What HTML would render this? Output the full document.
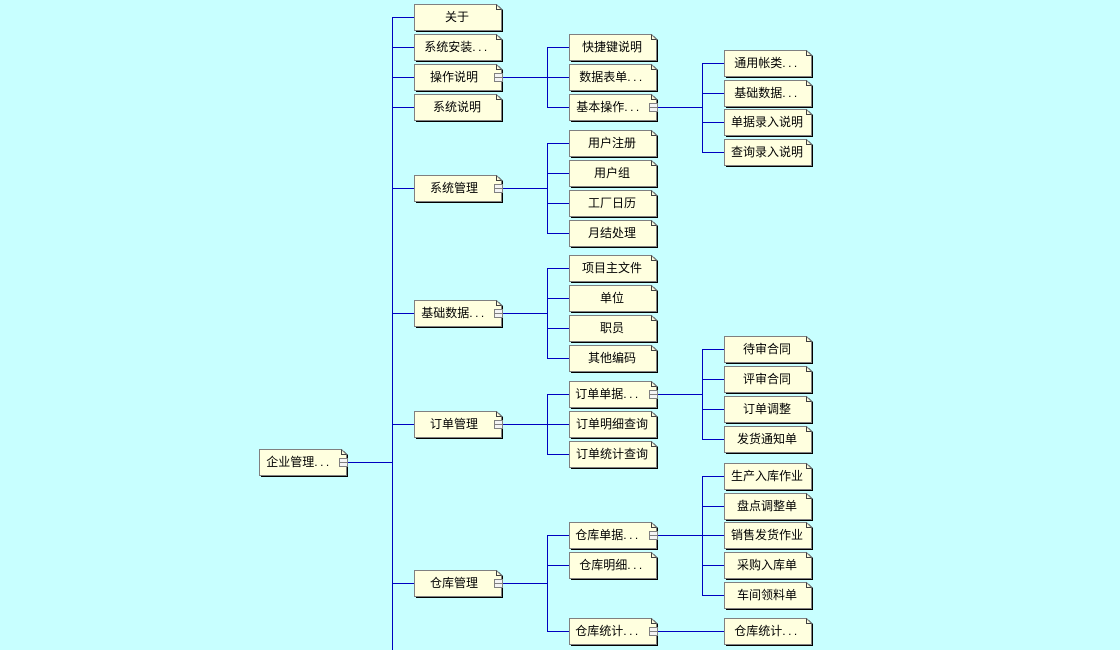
<!DOCTYPE html>
<html><head><meta charset="utf-8">
<style>
html,body{margin:0;padding:0;background:#c8ffff;}
svg{display:block;}
text{font-family:"Liberation Sans","Noto Sans CJK SC","WenQuanYi Zen Hei",sans-serif;font-size:12px;fill:#000;text-anchor:middle;}
</style></head>
<body>
<svg width="1120" height="650" viewBox="0 0 1120 650" xmlns="http://www.w3.org/2000/svg">
<defs>
<g id="box">
<polygon points="2,2 85,2 89,6 89,28 2,28" fill="#000"/>
<polygon points="0.5,0.5 82.5,0.5 87.5,5.5 87.5,26.5 0.5,26.5" fill="#ffffdf" stroke="#808080"/>
<polyline points="82.5,0.5 82.5,5.5 87.5,5.5" fill="none" stroke="#404040"/>
</g>
<g id="ico">
<rect x="0.5" y="0.5" width="8" height="8" fill="#f4f4f4" stroke="#808080"/>
<line x1="0" y1="4.5" x2="9" y2="4.5" stroke="#808080"/>
</g>
</defs>
<rect width="1120" height="650" fill="#c8ffff"/>

<g stroke="#0000c0" stroke-width="1" fill="none" shape-rendering="crispEdges">
<!-- root -->
<path d="M348 462.5H392.5"/>
<path d="M392.5 17V650"/>
<path d="M392 17.5H414M392 47.5H414M392 77.5H414M392 107.5H414M392 188.5H414M392 313.5H414M392 424.5H414M392 583.5H414"/>
<!-- 操作说明 -->
<path d="M502 77.5H547.5M547.5 47V108M547 47.5H569M547 77.5H569M547 107.5H569"/>
<!-- 系统管理 -->
<path d="M502 188.5H547.5M547.5 143V234M547 143.5H569M547 173.5H569M547 203.5H569M547 233.5H569"/>
<!-- 基础数据 -->
<path d="M502 313.5H547.5M547.5 268V359M547 268.5H569M547 298.5H569M547 328.5H569M547 358.5H569"/>
<!-- 订单管理 -->
<path d="M502 424.5H547.5M547.5 394V455M547 394.5H569M547 424.5H569M547 454.5H569"/>
<!-- 仓库管理 -->
<path d="M502 583.5H547.5M547.5 535V632M547 535.5H569M547 565.5H569M547 631.5H569"/>
<!-- 基本操作 -->
<path d="M657 107.5H702.5M702.5 63V153M702 63.5H724M702 93.5H724M702 122.5H724M702 152.5H724"/>
<!-- 订单单据 -->
<path d="M657 394.5H702.5M702.5 349V440M702 349.5H724M702 379.5H724M702 409.5H724M702 439.5H724"/>
<!-- 仓库单据 -->
<path d="M657 535.5H702.5M702.5 476V596M702 476.5H724M702 506.5H724M702 535.5H724M702 565.5H724M702 595.5H724"/>
<!-- 仓库统计 -->
<path d="M657 631.5H724"/>
</g>

<!-- Root -->
<use href="#box" x="259" y="449"/><use href="#ico" x="339" y="458"/>
<text x="299" y="466">企业管理<tspan letter-spacing="2.5">...</tspan></text>

<!-- Level 1 -->
<use href="#box" x="414" y="4"/><text x="457" y="21">关于</text>
<use href="#box" x="414" y="34"/><text x="457" y="51">系统安装<tspan letter-spacing="2.5">...</tspan></text>
<use href="#box" x="414" y="64"/><use href="#ico" x="494" y="73"/><text x="454" y="81">操作说明</text>
<use href="#box" x="414" y="94"/><text x="457" y="111">系统说明</text>
<use href="#box" x="414" y="175"/><use href="#ico" x="494" y="184"/><text x="454" y="192">系统管理</text>
<use href="#box" x="414" y="300"/><use href="#ico" x="494" y="309"/><text x="454" y="317">基础数据<tspan letter-spacing="2.5">...</tspan></text>
<use href="#box" x="414" y="411"/><use href="#ico" x="494" y="420"/><text x="454" y="428">订单管理</text>
<use href="#box" x="414" y="570"/><use href="#ico" x="494" y="579"/><text x="454" y="587">仓库管理</text>

<!-- Level 2 -->
<use href="#box" x="569" y="34"/><text x="612" y="51">快捷键说明</text>
<use href="#box" x="569" y="64"/><text x="612" y="81">数据表单<tspan letter-spacing="2.5">...</tspan></text>
<use href="#box" x="569" y="94"/><use href="#ico" x="649" y="103"/><text x="609" y="111">基本操作<tspan letter-spacing="2.5">...</tspan></text>
<use href="#box" x="569" y="130"/><text x="612" y="147">用户注册</text>
<use href="#box" x="569" y="160"/><text x="612" y="177">用户组</text>
<use href="#box" x="569" y="190"/><text x="612" y="207">工厂日历</text>
<use href="#box" x="569" y="220"/><text x="612" y="237">月结处理</text>
<use href="#box" x="569" y="255"/><text x="612" y="272">项目主文件</text>
<use href="#box" x="569" y="285"/><text x="612" y="302">单位</text>
<use href="#box" x="569" y="315"/><text x="612" y="332">职员</text>
<use href="#box" x="569" y="345"/><text x="612" y="362">其他编码</text>
<use href="#box" x="569" y="381"/><use href="#ico" x="649" y="390"/><text x="608" y="398">订单单据<tspan letter-spacing="2.5">...</tspan></text>
<use href="#box" x="569" y="411"/><text x="612" y="428">订单明细查询</text>
<use href="#box" x="569" y="441"/><text x="612" y="458">订单统计查询</text>
<use href="#box" x="569" y="522"/><use href="#ico" x="649" y="531"/><text x="608" y="539">仓库单据<tspan letter-spacing="2.5">...</tspan></text>
<use href="#box" x="569" y="552"/><text x="612" y="569">仓库明细<tspan letter-spacing="2.5">...</tspan></text>
<use href="#box" x="569" y="618"/><use href="#ico" x="649" y="627"/><text x="608" y="635">仓库统计<tspan letter-spacing="2.5">...</tspan></text>

<!-- Level 3 -->
<use href="#box" x="724" y="50"/><text x="767" y="67">通用帐类<tspan letter-spacing="2.5">...</tspan></text>
<use href="#box" x="724" y="80"/><text x="767" y="97">基础数据<tspan letter-spacing="2.5">...</tspan></text>
<use href="#box" x="724" y="109"/><text x="767" y="126">单据录入说明</text>
<use href="#box" x="724" y="139"/><text x="767" y="156">查询录入说明</text>
<use href="#box" x="724" y="336"/><text x="767" y="353">待审合同</text>
<use href="#box" x="724" y="366"/><text x="767" y="383">评审合同</text>
<use href="#box" x="724" y="396"/><text x="767" y="413">订单调整</text>
<use href="#box" x="724" y="426"/><text x="767" y="443">发货通知单</text>
<use href="#box" x="724" y="463"/><text x="767" y="480">生产入库作业</text>
<use href="#box" x="724" y="493"/><text x="767" y="510">盘点调整单</text>
<use href="#box" x="724" y="522"/><text x="767" y="539">销售发货作业</text>
<use href="#box" x="724" y="552"/><text x="767" y="569">采购入库单</text>
<use href="#box" x="724" y="582"/><text x="767" y="599">车间领料单</text>
<use href="#box" x="724" y="618"/><text x="767" y="635">仓库统计<tspan letter-spacing="2.5">...</tspan></text>
</svg>
</body></html>
